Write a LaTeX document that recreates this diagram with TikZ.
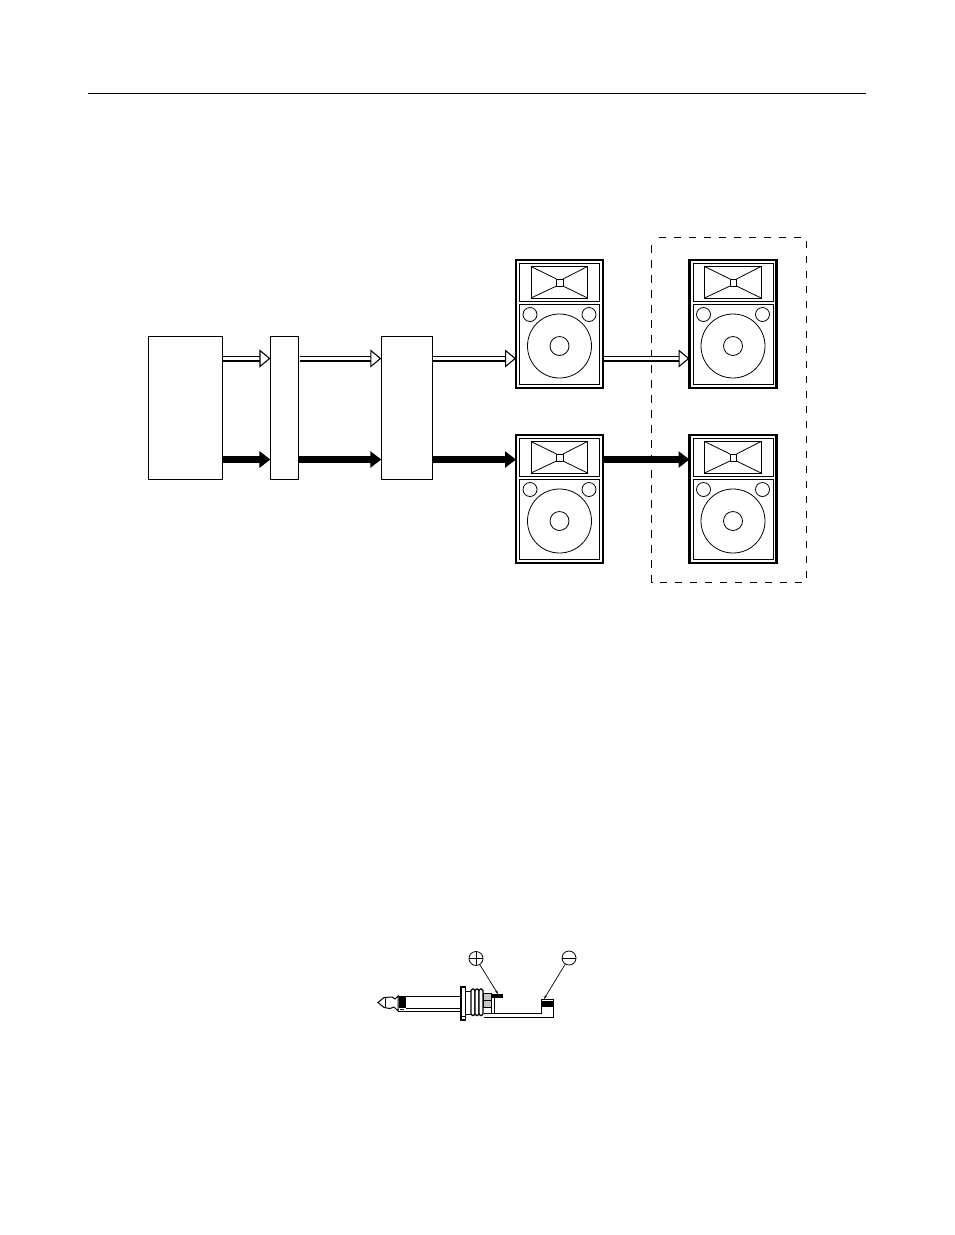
\documentclass[tikz,border=0pt]{standalone}
\usetikzlibrary{arrows.meta}
\tikzset{
  unitbox/.style={draw, line width=1pt, minimum height=143pt, inner sep=0pt, outer sep=0pt},
  signalHollow/.style={draw=black, double=white, line width=1.2pt, double distance=3.6pt,
    -{Triangle[length=11pt, width=18pt, fill=white, line width=1.1pt]}, shorten <=0.6pt},
  signalSolid/.style={draw=black, line width=6.4pt, -{Triangle[length=11pt, width=16pt]}},
  speaker/.pic={
    \node[draw, line width=2.4pt, minimum width=87pt, minimum height=127.6pt, inner sep=0pt, outer sep=0pt] (-cab) at (0,0) {};
    \draw[line width=.8pt] (-40,-61) rectangle (40,-23);
    \draw[line width=.8pt] (-40,-20) rectangle (40,60);
    \draw[line width=.8pt] (-28.5,-57.5) rectangle (28,-26);
    \draw[line width=.8pt] (-3,-45) rectangle (3.5,-38);
    \draw[line width=.8pt] (-28.5,-57.5) -- (-3,-45) (28,-57.5) -- (3.5,-45);
    \draw[line width=.8pt] (-28.5,-26) -- (-3,-38) (28,-26) -- (3.5,-38);
    \draw[line width=.8pt] (-29.5,-9.5) circle (7pt) (29.5,-9.5) circle (7pt);
    \draw[line width=.8pt] (0,22) circle (32pt) (0,22) circle (9.5pt);
  }
}
\begin{document}
\begin{tikzpicture}[x=1pt, y=-1pt]
  \useasboundingbox (0,0) rectangle (954,1235);
  \draw[line width=1pt] (88,93.5) -- (866,93.5);
  % signal chain
  \node[unitbox, minimum width=74pt] (source) at (185.5,407.7) {};
  \node[unitbox, minimum width=28.5pt] (limiter) at (284.7,407.7) {};
  \node[unitbox, minimum width=51pt] (amp) at (406.8,407.7) {};
  \pic (mainHi) at (559.5,324) {speaker};
  \pic (extHi) at (733,324) {speaker};
  \pic (mainLo) at (559.5,499) {speaker};
  \pic (extLo) at (733,499) {speaker};
  \draw[line width=1pt, dash pattern=on 7.5pt off 7.5pt, dash phase=7.5pt] (651.7,237.7) rectangle (806,582);
  \coordinate (hollowY) at (0,358.5);
  \coordinate (solidY) at (0,459.5);
  \draw[signalHollow] (source.east |- hollowY) -- (limiter.west |- hollowY);
  \draw[signalHollow] (limiter.east |- hollowY) -- (amp.west |- hollowY);
  \draw[signalHollow] (amp.east |- hollowY) -- (mainHi-cab.west |- hollowY);
  \draw[signalHollow] (mainHi-cab.east |- hollowY) -- (extHi-cab.west |- hollowY);
  \draw[signalSolid] (source.east |- solidY) -- (limiter.west |- solidY);
  \draw[signalSolid] (limiter.east |- solidY) -- (amp.west |- solidY);
  \draw[signalSolid] (amp.east |- solidY) -- (mainLo-cab.west |- solidY);
  \draw[signalSolid] (mainLo-cab.east |- solidY) -- (extLo-cab.west |- solidY);
  % phone plug
  \draw[line width=1pt] (378,1002.5) -- (384,997.5) -- (392,997) -- (395,999) -- (398,996)
    -- (398,1011) -- (394,1007) -- (390,1008.5) -- (384,1007.5) -- cycle;
  \draw[line width=.7pt] (385,998) -- (385,1007);
  \draw[line width=1pt] (398,996) -- (461,996) (398,1011) -- (461,1011);
  \fill (398.5,996) rectangle (405.5,1008);
  \draw[line width=.8pt] (406,1008.5) -- (461,1008.5);
  \draw[line width=.6pt] (400,1009.5) -- (404,1009.5);
  \draw[line width=1.1pt] (461,987) rectangle (465.5,1020);
  \draw[line width=.6pt] (461,1016) -- (465.5,1016);
  \draw[line width=1pt] (465.5,991) rectangle (471,1014);
  \foreach \tx in {471,475,479} {
    \draw[line width=1.1pt, fill=white, rounded corners=1.5pt] (\tx,989) rectangle ++(4,26.5);
  }
  \draw[line width=.8pt, fill=black!22] (483.5,993) rectangle (491,1007);
  \draw[line width=.8pt] (483.5,1000) -- (491,1000);
  \draw[line width=.9pt] (494,997) -- (494,1012.5) (491,1007) -- (491,1012.5);
  \fill (491,994) rectangle (503,997.5);
  \draw[line width=.9pt] (483.5,1017) -- (553,1017) -- (553,999) -- (541,999) -- (541,1013) -- (483.5,1013);
  \fill (541,1001) rectangle (553,1007);
  \node[draw, circle, line width=.8pt, minimum size=14pt, inner sep=0pt] (plusMark) at (476,958.5) {};
  \draw[line width=.8pt] (plusMark.north) -- (plusMark.south) (plusMark.west) -- (plusMark.east);
  \node[draw, circle, line width=.8pt, minimum size=14pt, inner sep=0pt] (minusMark) at (569,958) {};
  \draw[line width=.8pt] (minusMark.west) -- (minusMark.east);
  \coordinate (plusEnd) at (498,994);
  \coordinate (minusEnd) at (544,999);
  \draw[line width=.7pt, -{Stealth[length=4pt, width=2.5pt]}] (plusMark) -- (plusEnd);
  \draw[line width=.7pt, -{Stealth[length=4pt, width=2.5pt]}] (minusMark) -- (minusEnd);
\end{tikzpicture}
\end{document}
